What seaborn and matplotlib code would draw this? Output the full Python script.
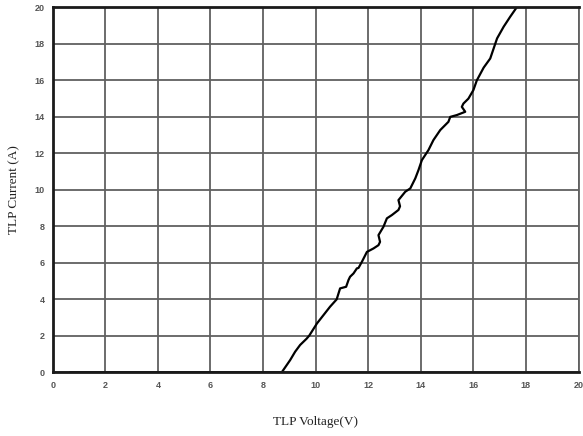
import pandas as pd
import seaborn as sns
import matplotlib.pyplot as plt

# TLP I-V curve
voltage = [0.66, 8.71, 9.03, 9.22, 9.41, 9.66, 9.76, 10.05, 10.3, 10.55, 10.8,
           10.93, 11.16, 11.25, 11.31, 11.44, 11.57, 11.63, 11.76, 11.95, 12.2,
           12.39, 12.45, 12.39, 12.58, 12.71, 12.9, 13.15, 13.21, 13.15, 13.41,
           13.6, 13.79, 13.91, 14.04, 14.29, 14.48, 14.74, 15.05, 15.12, 15.37,
           15.69, 15.56, 15.62, 15.81, 16.0, 16.13, 16.39, 16.64, 16.9, 17.15,
           17.4, 17.66]
current = [0.0, 0.0, 0.67, 1.13, 1.5, 1.85, 2.02, 2.68, 3.14, 3.6, 4.0,
           4.6, 4.69, 5.06, 5.24, 5.42, 5.7, 5.72, 6.06, 6.6, 6.79,
           6.97, 7.15, 7.52, 7.98, 8.44, 8.62, 8.9, 9.1, 9.44, 9.9,
           10.08, 10.63, 11.08, 11.63, 12.18, 12.73, 13.28, 13.73, 14.0, 14.1,
           14.28, 14.55, 14.73, 15.0, 15.47, 16.0, 16.7, 17.2, 18.3, 18.94,
           19.49, 20.03]

x_ticks = list(range(0, 21, 2))
y_ticks = list(range(0, 21, 2))

df = pd.DataFrame({"voltage": voltage, "current": current})

sns.set_style("white")

fig = plt.figure(figsize=(5.83, 4.36), dpi=100)
ax = fig.add_axes([0.0904, 0.146, 0.902, 0.837])

sns.lineplot(data=df, x="voltage", y="current", sort=False, estimator=None,
             color="black", linewidth=1.6, ax=ax)

ax.set_xlim(0, 20)
ax.set_ylim(0, 20)
ax.set_xticks(x_ticks)
ax.set_yticks(y_ticks)
ax.grid(True, color="#606060", linewidth=1.3)
ax.set_axisbelow(True)

for lab in ax.get_xticklabels() + ax.get_yticklabels():
    lab.set_fontfamily("Liberation Sans")
    lab.set_fontweight("bold")
    lab.set_fontsize(6.5)
    lab.set_color("#555555")
ax.tick_params(length=0, pad=6)

for side in ["left", "bottom", "top"]:
    ax.spines[side].set_color("#1a1a1a")
    ax.spines[side].set_linewidth(2)
ax.spines["right"].set_color("#606060")
ax.spines["right"].set_linewidth(1.3)

ax.set_xlabel("TLP Voltage(V)", family="Liberation Serif", fontsize=9.5,
              color="#222222", va="center")
ax.set_ylabel("TLP Current (A)", family="Liberation Serif", fontsize=9.5,
              color="#222222", va="center")
ax.xaxis.set_label_coords(0.499, -0.136)
ax.yaxis.set_label_coords(-0.074, 0.5)

fig.savefig("out.png", dpi=100)
